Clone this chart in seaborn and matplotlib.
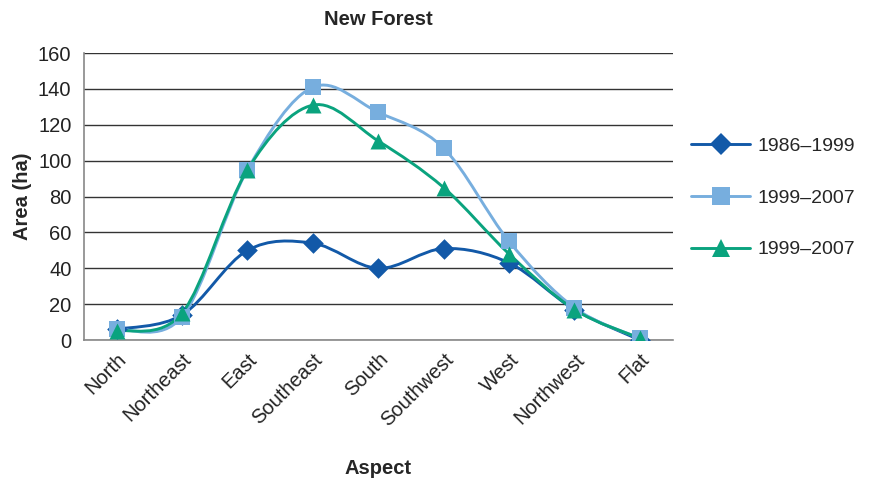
import matplotlib
matplotlib.use("Agg")
import matplotlib.pyplot as plt
from matplotlib.path import Path
from matplotlib.patches import PathPatch
from matplotlib.lines import Line2D
import numpy as np
import pandas as pd
import seaborn as sns

## data
aspects = ["North", "Northeast", "East", "Southeast", "South",
           "Southwest", "West", "Northwest", "Flat"]
area_1986_1999 = [6, 14, 50, 54, 40, 51, 43, 17, 0]
area_1999_2007a = [6, 13, 95, 141, 127, 107, 55, 18, 1]
area_1999_2007b = [5, 15, 95, 131, 111, 85, 48, 17, 1]
series_labels = ["1986\u20131999", "1999\u20132007", "1999\u20132007"]

colors = ["#1259a8", "#77aede", "#0aa37e"]
markers = ["D", "s", "^"]
msizes = [10.5, 11.5, 11.5]

sns.set_theme(style="white")
plt.rcParams['font.family'] = ['Liberation Sans', 'DejaVu Sans']

fig = plt.figure(figsize=(8.72, 4.83), dpi=100)
ax = fig.add_axes([0.0963, 0.296, 0.675, 0.594])

xpos = np.arange(len(aspects))
all_series = [area_1986_1999, area_1999_2007a, area_1999_2007b]


def smooth_path(x, y):
    # excel-like smoothed line: catmull-rom turned into cubic bezier segments
    pts = np.column_stack([x, y]).astype(float)
    n = len(pts)
    verts = [pts[0]]
    codes = [Path.MOVETO]
    for i in range(n - 1):
        p0 = pts[i - 1] if i > 0 else pts[i]
        p1 = pts[i]
        p2 = pts[i + 1]
        p3 = pts[i + 2] if i + 2 < n else pts[i + 1]
        c1 = p1 + (p2 - p0) / 6.0
        c2 = p2 - (p3 - p1) / 6.0
        verts += [c1, c2, p2]
        codes += [Path.CURVE4] * 3
    return Path(verts, codes)


handles = []
for k, vals in enumerate(all_series):
    df = pd.DataFrame({"x": xpos, "area": vals})
    patch = PathPatch(smooth_path(df["x"], df["area"]), facecolor="none",
                      edgecolor=colors[k], lw=2.1, zorder=3 + k * 0.1,
                      capstyle="round", joinstyle="round")
    ax.add_patch(patch)
    sns.scatterplot(data=df, x="x", y="area", ax=ax, marker=markers[k],
                    color=colors[k], s=msizes[k] ** 2, linewidth=0,
                    zorder=4 + k * 0.1, legend=False)
    handles.append(Line2D([], [], color=colors[k], lw=2.1, marker=markers[k],
                          markersize=msizes[k] + 1, markeredgewidth=0))

ax.set_xlim(-0.5, len(aspects) - 0.5)
ax.set_ylim(0, 160)
ax.set_yticks(range(0, 161, 20))
ax.set_xticks(xpos)
ax.set_xticklabels(aspects, rotation=45, ha="right", rotation_mode="anchor")
ax.tick_params(axis="both", length=0, labelsize=14.5, colors="#222222")
ax.tick_params(axis="x", pad=7)
ax.tick_params(axis="y", pad=9)

ax.grid(axis="y", color="#333333", lw=1.0)
ax.grid(axis="x", visible=False)
for s in ["top", "right"]:
    ax.spines[s].set_visible(False)
for s in ["left", "bottom"]:
    ax.spines[s].set_color("#888888")
    ax.spines[s].set_linewidth(1.2)

ax.set_title("New Forest", fontsize=14.5, fontweight="bold", pad=20)
ax.set_xlabel("Aspect", fontsize=14.5, fontweight="bold", labelpad=21)
ax.set_ylabel("Area (ha)", fontsize=14.5, fontweight="bold", labelpad=4)

fig.legend(handles, series_labels, loc="center left",
           bbox_to_anchor=(0.793, 0.590), frameon=False, fontsize=14,
           handlelength=3.0, labelspacing=1.75, handletextpad=0.4,
           borderaxespad=0, borderpad=0)

fig.savefig("out.png", dpi=100)
